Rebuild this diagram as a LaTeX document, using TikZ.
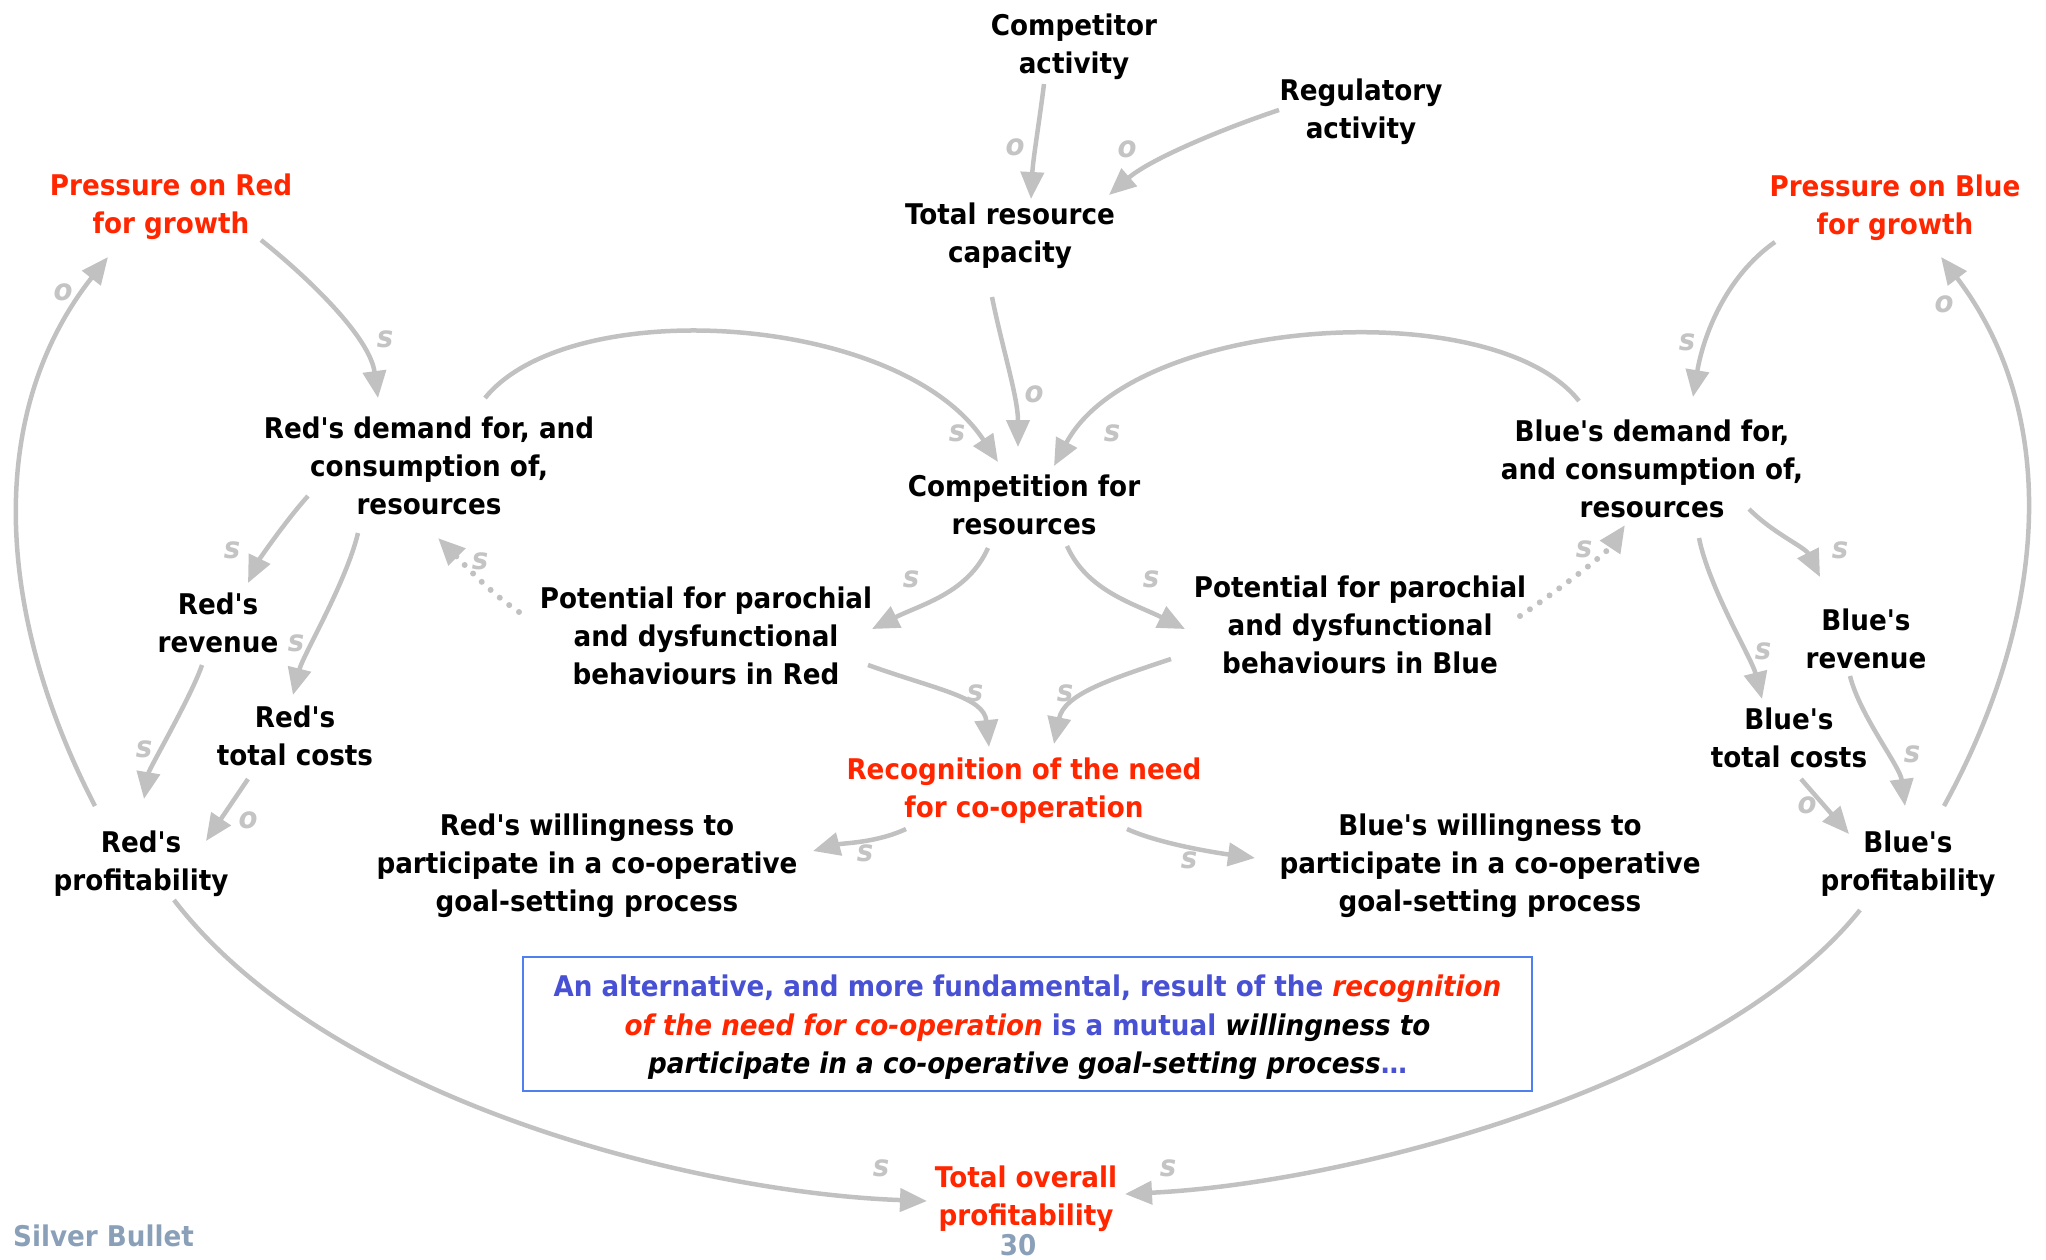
\documentclass[tikz,border=0pt]{standalone}
\usepackage{fontspec}
\newfontfamily\cldfont{DejaVu Sans}[FakeStretch=0.92]
\usetikzlibrary{arrows.meta,calc}
\definecolor{cdred}{RGB}{255,38,0}
\definecolor{cdblue}{RGB}{72,80,212}
\definecolor{linkgray}{RGB}{192,193,192}
\definecolor{signgray}{RGB}{196,196,196}
\definecolor{slate}{RGB}{138,160,184}
\definecolor{boxblue}{RGB}{80,128,240}
\begin{document}
\begin{tikzpicture}[x=1pt,y=-1pt,
  var/.style={align=center, inner sep=0pt, yshift=-3pt, font=\cldfont\bfseries\fontsize{28.5}{38}\selectfont},
  key/.style={var, text=cdred},
  link/.style={draw=linkgray, line width=4.5pt, -{Triangle[length=27pt,width=23pt]}},
  dotlink/.style={link, line width=6pt, line cap=round, dash pattern=on 0pt off 12pt},
  sign/.style={text=signgray, inner sep=0pt, font=\cldfont\bfseries\itshape\fontsize{30}{30}\selectfont},
]
\useasboundingbox (0,0) rectangle (2046,1259);

% variables
\node[var] (compact) at (1074,44) {Competitor\\activity};
\node[var] (regact) at (1361,109) {Regulatory\\activity};
\node[var] (trc) at (1010,233) {Total resource\\capacity};
\node[key] (prred) at (171,204) {Pressure on Red\\for growth};
\node[key] (prblue) at (1895,205) {Pressure on Blue\\for growth};
\node[var] (rdem) at (429,463) {Red's demand for, and\\consumption of,\\resources};
\node[var] (comp) at (1024,502) {Competition for\\resources};
\node[var] (bdem) at (1652,466) {Blue's demand for,\\and consumption of,\\resources};
\node[var] (potred) at (706,633) {Potential for parochial\\and dysfunctional\\behaviours in Red};
\node[var] (potblue) at (1360,622) {Potential for parochial\\and dysfunctional\\behaviours in Blue};
\node[var] (rrev) at (218,620) {Red's\\revenue};
\node[var] (rcost) at (295,733) {Red's\\total costs};
\node[var] (rprof) at (141,861) {Red's\\profitability};
\node[var] (brev) at (1866,636) {Blue's\\revenue};
\node[var] (bcost) at (1789,735) {Blue's\\total costs};
\node[var] (bprof) at (1908,861) {Blue's\\profitability};
\node[key] (recog) at (1024,788) {Recognition of the need\\for co-operation};
\node[var] (rwill) at (587,863) {Red's willingness to\\participate in a co-operative\\goal-setting process};
\node[var] (bwill) at (1490,863) {Blue's willingness to\\participate in a co-operative\\goal-setting process};
\node[key] (total) at (1026,1196) {Total overall\\profitability};

% comment box
\node[draw=boxblue, line width=2.5pt, minimum width=1009pt, minimum height=134pt,
      inner sep=0pt, align=center, text=cdblue,
      font=\cldfont\bfseries\fontsize{28.5}{38.5}\selectfont] (note) at (1027.5,1024)
  {\rule{0pt}{29pt}An alternative, and more fundamental, result of the {\color{cdred}\itshape recognition}\\
   {\color{cdred}\itshape of the need for co-operation} is a mutual {\color{black}\itshape willingness to}\\
   {\color{black}\itshape participate in a co-operative goal-setting process}…};

% footer
\node[var, text=slate, anchor=west] (brand) at (13,1233) {Silver Bullet};
\node[var, text=slate] (pageno) at (1018,1242) {30};

% causal links
\draw[link] ($(compact)+(-30,37)$) .. controls +(-5,40) and +(2,-40) .. ($(trc)+(21,-37)$);
\draw[link] ($(regact)+(-82,-2)$) .. controls +(-60,20) and +(40,-35) .. ($(trc)+(99,-41)$);
\draw[link] ($(trc)+(-18,61)$) .. controls +(10,50) and +(0,-50) .. ($(comp)+(-6,-58)$);
\draw[link] ($(rdem)+(56,-68)$) .. controls +(85,-105) and +(-98,-149) .. ($(comp)+(-26,-43)$);
\draw[link] ($(bdem)+(-73,-68)$) .. controls +(-85,-108) and +(80,-150) .. ($(comp)+(30,-39)$);
\draw[link] ($(prred)+(90,33)$) .. controls +(50,40) and +(-8,-60) .. ($(rdem)+(-51,-68)$);
\draw[link] ($(prblue)+(-120,34)$) .. controls +(-50,35) and +(10,-60) .. ($(bdem)+(41,-72)$);
\draw[link] ($(rprof)+(-46,-58)$) .. controls +(-100,-193) and +(-123,156) .. ($(prred)+(-63,50)$);
\draw[link] ($(bprof)+(36,-58)$) .. controls +(106,-193) and +(119,156) .. ($(prblue)+(46,49)$);
\draw[link] ($(rdem)+(-121,30)$) .. controls +(-20,22) and +(12,-25) .. ($(rrev)+(30,-40)$);
\draw[link] ($(rdem)+(-71,67)$) .. controls +(-12,50) and +(10,-40) .. ($(rcost)+(-2,-41)$);
\draw[link] ($(rrev)+(-16,42)$) .. controls +(-10,30) and +(5,-30) .. ($(rprof)+(3,-65)$);
\draw[link] ($(rcost)+(-47,43)$) -- ($(rprof)+(65,-23)$);
\draw[dotlink] ($(potred)+(-187,-24)$) .. controls +(-30,-20) and +(25,25) .. ($(rdem)+(9,72)$);
\draw[link] ($(comp)+(-36,43)$) .. controls +(-20,45) and +(50,-25) .. ($(potred)+(166,-7)$);
\draw[link] ($(comp)+(43,41)$) .. controls +(20,45) and +(-50,-25) .. ($(potblue)+(-175,4)$);
\draw[dotlink] ($(potblue)+(160,-9)$) .. controls +(30,-20) and +(-20,30) .. ($(bdem)+(-27,56)$);
\draw[link] ($(potred)+(162,29)$) .. controls +(70,25) and +(-5,-50) .. ($(recog)+(-35,-44)$);
\draw[link] ($(potblue)+(-189,34)$) .. controls +(-60,20) and +(10,-50) .. ($(recog)+(30,-47)$);
\draw[link] ($(recog)+(-118,38)$) .. controls +(-30,14) and +(30,-8) .. ($(rwill)+(226,-15)$);
\draw[link] ($(recog)+(103,38)$) .. controls +(35,16) and +(-30,-4) .. ($(bwill)+(-235,-8)$);
\draw[link] ($(bdem)+(97,40)$) .. controls +(25,25) and +(-15,-30) .. ($(brev)+(-46,-62)$);
\draw[link] ($(bdem)+(47,69)$) .. controls +(10,50) and +(-10,-40) .. ($(bcost)+(-27,-39)$);
\draw[link] ($(brev)+(-16,37)$) .. controls +(10,40) and +(-5,-40) .. ($(bprof)+(-3,-58)$);
\draw[link] ($(bcost)+(12,41)$) -- ($(bprof)+(-59,-30)$);
\draw[link] ($(rprof)+(33,36)$) .. controls +(156,203) and +(-227,-8) .. ($(total)+(-99,2)$);
\draw[link] ($(bprof)+(-48,46)$) .. controls +(-140,175) and +(227,-11) .. ($(total)+(99,-5)$);

% link polarities
\node[sign] (p1) at (1015,147) {o};
\node[sign] (p2) at (1127,149) {o};
\node[sign] (p3) at (1034,394) {o};
\node[sign] (p4) at (957,433) {s};
\node[sign] (p5) at (1112,433) {s};
\node[sign] (p6) at (385,339) {s};
\node[sign] (p7) at (1687,342) {s};
\node[sign] (p8) at (63,292) {o};
\node[sign] (p9) at (1944,304) {o};
\node[sign] (p10) at (232,550) {s};
\node[sign] (p11) at (296,643) {s};
\node[sign] (p12) at (144,749) {s};
\node[sign] (p13) at (248,820) {o};
\node[sign] (p14) at (480,561) {s};
\node[sign] (p15) at (911,579) {s};
\node[sign] (p16) at (1151,579) {s};
\node[sign] (p17) at (1584,549) {s};
\node[sign] (p18) at (975,693) {s};
\node[sign] (p19) at (1065,693) {s};
\node[sign] (p20) at (865,853) {s};
\node[sign] (p21) at (1189,860) {s};
\node[sign] (p22) at (1840,550) {s};
\node[sign] (p23) at (1763,651) {s};
\node[sign] (p24) at (1912,754) {s};
\node[sign] (p25) at (1807,805) {o};
\node[sign] (p26) at (881,1168) {s};
\node[sign] (p27) at (1168,1168) {s};
\end{tikzpicture}
\end{document}
